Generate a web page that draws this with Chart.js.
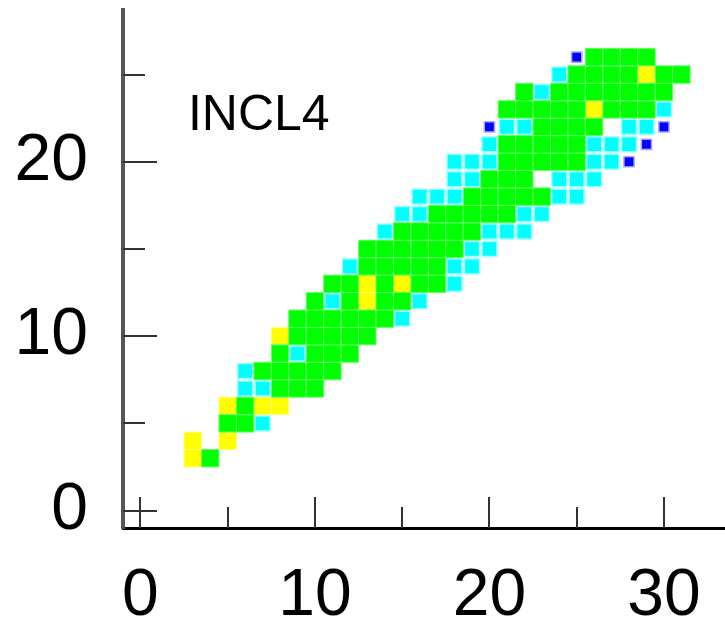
<!DOCTYPE html>
<html>
<head>
<meta charset="utf-8">
<script src="https://cdn.jsdelivr.net/npm/chart.js@4.4.1/dist/chart.umd.min.js"></script>
<style>
  html, body { margin: 0; padding: 0; background: #fff; }
</style>
</head>
<body>
<canvas id="chart" width="725" height="634"></canvas>
<script>
// one entry per grid row (y), listing the x of each cell of that colour
const rowY = [3, 4, 5, 6, 7, 8, 9, 10, 11, 12, 13, 14, 15, 16, 17, 18, 19, 20, 21, 22, 23, 24, 25, 26];

const greenX = [
    [4], [], [5, 6], [6], [8, 9, 10], [7, 8, 9, 10, 11], [8, 10, 11, 12], [9, 10, 11, 12, 13],
    [9, 10, 11, 12, 13, 14], [10, 12, 14, 15], [11, 12, 14, 16, 17], [13, 14, 15, 16, 17],
    [13, 14, 15, 16, 17, 18], [15, 16, 17, 18, 19], [17, 18, 19, 20, 21], [19, 20, 21, 22, 23],
    [20, 21, 22], [21, 22, 23, 24, 25], [21, 22, 23, 24, 25], [23, 24, 25, 26],
    [21, 22, 23, 24, 25, 27, 28, 29], [22, 24, 25, 26, 27, 28, 29, 30], [25, 26, 27, 28, 30, 31], [26, 27, 28, 29]
];

const yellowX = [
    [3], [3, 5], [], [5, 7, 8], [], [], [], [8],
    [], [13], [13, 15], [],
    [], [], [], [],
    [], [], [], [],
    [26], [], [29], []
];

const cyanX = [
    [], [], [7], [], [6, 7], [6], [9], [],
    [15], [11, 16], [18], [12, 18, 19],
    [19, 20], [14, 20, 21, 22], [15, 16, 22, 23], [16, 17, 18, 24, 25],
    [18, 19, 24, 25, 26], [18, 19, 20, 26, 27], [20, 26, 27, 28], [21, 22, 28, 29],
    [30], [23], [24], []
];

const blueX = [
    [], [], [], [], [], [], [], [],
    [], [], [], [],
    [], [], [], [],
    [], [28], [29], [20, 30],
    [], [], [], [25]
];

const xLabels = [0, 10, 20, 30];
const yLabels = [0, 10, 20];
const xMarks = [0, 5, 10, 15, 20, 25, 30];
const yMarks = [0, 5, 10, 15, 20, 25];
const plotTitle = 'INCL4';

function toPoints(xs) {
    const pts = [];
    xs.forEach((row, i) => row.forEach(x => pts.push({ x: x, y: rowY[i] })));
    return pts;
}

// radius that gives a square of `frac` grid cells
function cellRadius(chart, frac) {
    const xs = chart.scales.x;
    if (!xs) return 8;
    const unit = Math.abs(xs.getPixelForValue(1) - xs.getPixelForValue(0));
    return unit * frac / Math.SQRT2;
}

function cellSet(xs, fill, edge, edgeWidth, frac) {
    return {
        data: toPoints(xs),
        pointStyle: 'rect',
        backgroundColor: fill,
        borderColor: edge,
        borderWidth: edgeWidth,
        pointRadius: ctx => cellRadius(ctx.chart, frac),
        pointHoverRadius: ctx => cellRadius(ctx.chart, frac)
    };
}

// no extra room for the end labels, the plot fills its box
function noPadding(s) {
    s.paddingTop = 0;
    s.paddingBottom = 0;
    s.paddingLeft = 0;
    s.paddingRight = 0;
}

const tickMarks = {
    id: 'tickMarks',
    afterDatasetsDraw(chart) {
        const { ctx, chartArea, scales: { x, y } } = chart;
        ctx.save();
        ctx.strokeStyle = '#333';
        ctx.lineWidth = 2;
        xMarks.forEach(v => {
            const len = v % 10 === 0 ? 31 : 21;
            const px = Math.round(x.getPixelForValue(v));
            ctx.beginPath();
            ctx.moveTo(px, chartArea.bottom);
            ctx.lineTo(px, chartArea.bottom - len);
            ctx.stroke();
        });
        yMarks.forEach(v => {
            const len = v % 10 === 0 ? 34 : 22;
            const py = Math.round(y.getPixelForValue(v));
            ctx.beginPath();
            ctx.moveTo(chartArea.left, py);
            ctx.lineTo(chartArea.left + len, py);
            ctx.stroke();
        });
        ctx.restore();
    }
};

const innerTitle = {
    id: 'innerTitle',
    afterDatasetsDraw(chart, args, opts) {
        const { ctx, scales: { x, y } } = chart;
        ctx.save();
        ctx.font = '50px "Liberation Sans", Arial, sans-serif';
        ctx.fillStyle = '#000';
        ctx.textAlign = 'left';
        ctx.textBaseline = 'alphabetic';
        ctx.fillText(opts.text, x.getPixelForValue(opts.x), y.getPixelForValue(opts.y));
        ctx.restore();
    }
};

const tickFont = { family: "'Liberation Sans', Arial, sans-serif", size: 66 };

new Chart(document.getElementById('chart'), {
    type: 'scatter',
    data: {
        datasets: [
            cellSet(greenX, '#00ff00', '#66ff66', 1, 1),
            cellSet(yellowX, '#ffff00', '#ffff80', 1, 1),
            cellSet(cyanX, '#00ffff', 'rgba(0,255,255,0.35)', 3, 0.78),
            cellSet(blueX, '#0000ff', 'rgba(0,0,255,0.35)', 3, 0.5)
        ]
    },
    plugins: [tickMarks, innerTitle],
    options: {
        responsive: false,
        animation: false,
        devicePixelRatio: 1,
        events: [],
        layout: {
            padding: { top: 10, right: 0, left: 0, bottom: 0 }
        },
        plugins: {
            legend: { display: false },
            tooltip: { enabled: false },
            innerTitle: { text: plotTitle, x: 2.72, y: 21.82 }
        },
        scales: {
            x: {
                type: 'linear',
                min: -1,
                max: 33.5,
                grid: { display: false, drawTicks: false },
                border: { display: true, color: '#000', width: 3 },
                ticks: { font: tickFont, color: '#000', padding: 29, maxRotation: 0 },
                afterBuildTicks: s => { s.ticks = xLabels.map(v => ({ value: v })); },
                afterFit: s => { s.height = 106; noPadding(s); }
            },
            y: {
                type: 'linear',
                min: -1,
                max: 28.7,
                grid: { display: false, drawTicks: false },
                border: { display: true, color: '#555', width: 4 },
                ticks: { font: tickFont, color: '#000', padding: 35 },
                afterBuildTicks: s => { s.ticks = yLabels.map(v => ({ value: v })); },
                afterFit: s => { s.width = 123; noPadding(s); }
            }
        }
    }
});
</script>
</body>
</html>
